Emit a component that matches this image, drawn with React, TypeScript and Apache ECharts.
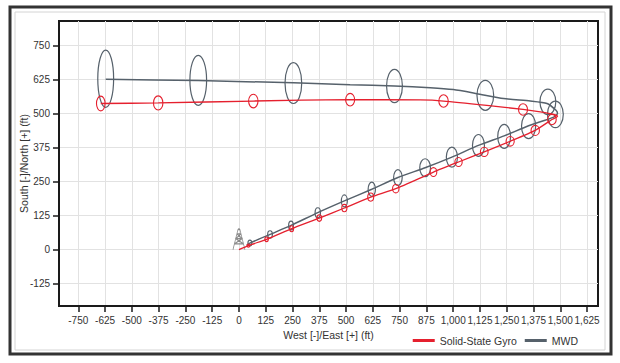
import React, { useEffect, useRef } from 'react';
import * as echarts from 'echarts';

const xTicks = [-750, -625, -500, -375, -250, -125, 0, 125, 250, 375, 500, 625, 750, 875, 1000, 1125, 1250, 1375, 1500, 1625];
const yTicks = [-125, 0, 125, 250, 375, 500, 625, 750];

const seriesNames = ['Solid-State Gyro', 'MWD'];

// [east, north] (ft)
const gyroPath: number[][] = [
  [0, 0], [44, 15], [129, 38], [246, 77], [375, 116], [492, 153], [615, 193], [732, 224],
  [908, 285], [1025, 322], [1145, 359], [1266, 398], [1383, 438], [1461, 478], [1487, 490],
  [1469, 497], [1407, 506], [1326, 515], [1157, 530], [955, 546], [846, 550], [519, 551],
  [67, 546], [-377, 539], [-645, 537],
];

const mwdPath: number[][] = [
  [36, 16], [51, 24], [145, 56], [243, 89], [368, 136], [492, 179], [620, 222], [742, 265],
  [869, 301], [994, 340], [1118, 383], [1238, 418], [1352, 455], [1469, 487], [1487, 500],
  [1480, 512], [1438, 537], [1360, 546], [1235, 555], [1111, 573], [1001, 588], [893, 595],
  [726, 601], [519, 606], [254, 613], [-190, 621], [-622, 626],
];

// [east, north, semi-axis east, semi-axis north] (ft)
const gyroEllipses: number[][] = [
  [44, 15, 6, 6], [129, 38, 8, 8.5], [246, 77, 9, 11], [375, 116, 11, 12], [492, 153, 12, 13.5],
  [615, 193, 14, 15], [732, 224, 15, 15.5], [908, 285, 15.5, 16.5], [1025, 322, 17, 16.5],
  [1145, 359, 18, 17], [1266, 398, 19, 17.5], [1383, 438, 19.5, 18.5], [1461, 478, 20, 19],
  [1326, 515, 21, 21], [955, 546, 22, 23], [519, 551, 21, 23], [67, 546, 22, 25],
  [-377, 539, 22, 26], [-645, 537, 20, 27],
];

const mwdEllipses: number[][] = [
  [51, 24, 9, 11], [145, 56, 11, 13.5], [243, 89, 11, 16], [368, 136, 12.5, 18], [492, 179, 14, 22],
  [620, 222, 17, 26], [742, 265, 20, 29], [869, 301, 25, 33], [994, 340, 26, 37], [1118, 383, 28, 40],
  [1238, 416, 30, 44], [1352, 454, 33, 46], [1477, 497, 37, 49], [1442, 543, 37, 47],
  [1150, 567, 39, 55], [726, 601, 37, 61], [254, 612, 39, 75], [-190, 622, 39, 92], [-622, 628, 37, 105],
];

const rigPoint: number[][] = [[0, 0]];

const RED = '#e5202e';
const GRAY = '#56616b';
const FONT = "'Liberation Sans', Arial, sans-serif";

function ellipseSeries(name: string, data: number[][], color: string, width: number) {
  return {
    type: 'custom',
    name: name + ' ellipses',
    coordinateSystem: 'cartesian2d',
    clip: true,
    silent: true,
    encode: { x: 0, y: 1 },
    data,
    renderItem: (_params: any, api: any) => {
      const c = api.coord([api.value(0), api.value(1)]);
      const s = api.size([api.value(2), api.value(3)]);
      return {
        type: 'ellipse',
        shape: { cx: c[0], cy: c[1], rx: s[0], ry: s[1] },
        style: { fill: 'none', stroke: color, lineWidth: width },
      };
    },
  };
}

export default function App() {
  const ref = useRef<HTMLDivElement>(null);
  useEffect(() => {
    const chart = echarts.init(ref.current!, null, { renderer: 'svg' });
    const axisText = { fontFamily: FONT, fontSize: 10, color: '#333' };
    chart.setOption({
      animation: false,
      backgroundColor: '#fff',
      textStyle: { fontFamily: FONT },
      graphic: [
        { type: 'rect', shape: { x: 10, y: 7, width: 601, height: 347 }, style: { fill: 'none', stroke: '#333', lineWidth: 3 }, silent: true },
        { type: 'rect', shape: { x: 15, y: 12, width: 590, height: 338 }, style: { fill: 'none', stroke: '#d4d4d4', lineWidth: 1 }, silent: true },
      ],
      grid: { left: 59, top: 21, width: 539, height: 285, show: true, borderColor: '#1a1a1a', borderWidth: 2, backgroundColor: 'transparent' },
      legend: {
        data: seriesNames,
        right: 37,
        top: 330,
        icon: 'rect',
        itemWidth: 22,
        itemHeight: 3,
        itemGap: 8,
        textStyle: { fontFamily: FONT, fontSize: 10.5, color: '#333' },
      },
      xAxis: {
        type: 'value',
        min: -840,
        max: 1676,
        name: 'West [-]/East [+] (ft)',
        nameLocation: 'middle',
        nameGap: 23,
        nameMoveOverlap: false,
        nameTextStyle: { ...axisText, fontSize: 10.5 },
        axisLine: { show: true, onZero: false, lineStyle: { color: '#1a1a1a', width: 2 } },
        axisTick: { show: true, customValues: xTicks, length: 6, lineStyle: { color: '#1a1a1a', width: 1.5 } },
        axisLabel: {
          customValues: xTicks,
          ...axisText,
          margin: 9,
          hideOverlap: false,
          formatter: (v: number) => v.toLocaleString('en-US'),
        },
        splitLine: { show: true, lineStyle: { color: '#e2e2e2', width: 1 } },
      },
      yAxis: {
        type: 'value',
        min: -207,
        max: 840,
        name: 'South [-]/North [+] (ft)',
        nameLocation: 'middle',
        nameRotate: 90,
        nameGap: 30,
        nameMoveOverlap: false,
        nameTextStyle: { ...axisText, fontSize: 10.5 },
        axisLine: { show: true, onZero: false, lineStyle: { color: '#1a1a1a', width: 2 } },
        axisTick: { show: true, customValues: yTicks, length: 6, lineStyle: { color: '#1a1a1a', width: 1.5 } },
        axisLabel: { customValues: yTicks, ...axisText, margin: 9, hideOverlap: false },
        splitLine: { show: true, lineStyle: { color: '#e2e2e2', width: 1 } },
      },
      series: [
        ellipseSeries('MWD', mwdEllipses, GRAY, 1.2),
        {
          type: 'line',
          name: 'MWD',
          data: mwdPath,
          showSymbol: false,
          smooth: 0.2,
          color: GRAY,
          lineStyle: { color: GRAY, width: 1.5 },
          z: 3,
        },
        {
          type: 'line',
          name: 'Solid-State Gyro',
          data: gyroPath,
          showSymbol: false,
          smooth: 0.2,
          color: RED,
          lineStyle: { color: RED, width: 1.3 },
          z: 4,
        },
        { ...ellipseSeries('Solid-State Gyro', gyroEllipses, RED, 1.1), z: 5 },
        {
          type: 'scatter',
          name: 'rig',
          data: rigPoint,
          symbol: 'path://M0,22 L5,1 L7,1 L12,22 M5,1 L6,0 L7,1 M1.5,16 L10.5,16 M2.8,10.5 L9.2,10.5 M3.9,5.5 L8.1,5.5 M1.5,16 L9.2,10.5 L3.9,5.5 M10.5,16 L2.8,10.5 L8.1,5.5',
          symbolSize: [12, 21],
          symbolOffset: [0, '-50%'],
          itemStyle: { color: 'rgba(0,0,0,0)', borderColor: '#6f6f6f', borderWidth: 1 },
          silent: true,
          z: 2,
        },
      ],
    });
    return () => chart.dispose();
  }, []);
  return <div ref={ref} style={{ position: 'fixed', left: 0, top: 0, width: 620, height: 363, background: '#fff' }} />;
}
